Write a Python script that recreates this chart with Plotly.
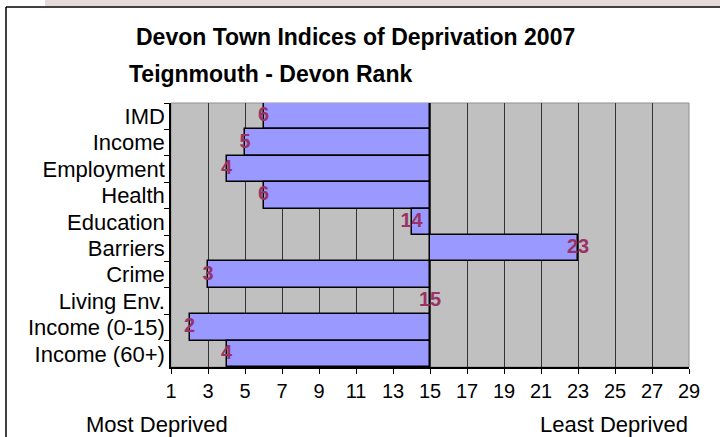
import plotly.graph_objects as go

categories = ["IMD", "Income", "Employment", "Health", "Education",
              "Barriers", "Crime", "Living Env.", "Income (0-15)", "Income (60+)"]
ranks = [6, 5, 4, 6, 14, 23, 3, 15, 2, 4]
baseline = 15
x_ticks = list(range(1, 30, 2))

title_text = "Devon Town Indices of Deprivation 2007"
subtitle_text = "Teignmouth - Devon Rank"
left_label = "Most Deprived"
right_label = "Least Deprived"

W, H = 720, 437
L, R, T, B = 171, 689, 103, 367  # plot area in px


def px_x(px):
    return (px - L) / (R - L)


def px_y(py):
    return (B - py) / (B - T)


FONT = "Liberation Sans, Arial, sans-serif"

fig = go.Figure()
fig.add_trace(go.Bar(
    y=categories,
    x=[r - baseline for r in ranks],
    base=baseline,
    orientation="h",
    marker=dict(color="#9999FF", line=dict(color="black", width=1.5)),
    hoverinfo="skip",
))
fig.add_trace(go.Scatter(
    y=categories,
    x=ranks,
    mode="text",
    text=[str(r) for r in ranks],
    textposition="middle center",
    textfont=dict(family=FONT, size=20, color="#993366", weight="bold"),
    hoverinfo="skip",
))

fig.update_layout(
    width=W, height=H,
    margin=dict(l=L, r=W - R, t=T, b=H - B, pad=0),
    paper_bgcolor="white",
    plot_bgcolor="#C0C0C0",
    showlegend=False,
    bargap=0,
    font=dict(family=FONT, color="black"),
    xaxis=dict(
        range=[1, 29],
        tickvals=x_ticks,
        showgrid=True, gridcolor="#333333", gridwidth=1,
        showline=True, linecolor="black", linewidth=1.5,
        ticks="outside", ticklen=5, tickcolor="black",
        tickfont=dict(size=20),
        zeroline=False, fixedrange=True,
    ),
    yaxis=dict(
        autorange="reversed",
        showline=True, linecolor="black", linewidth=1.5,
        ticks="outside", ticklen=5, tickcolor="black",
        tickson="boundaries",
        tickfont=dict(size=22),
        showgrid=False, fixedrange=True,
    ),
)

shapes = [
    # plot area border (grey)
    dict(type="rect", xref="paper", yref="paper", x0=0, x1=1, y0=0, y1=1,
         line=dict(color="#909090", width=1), layer="below"),
    # top banner strip
    dict(type="rect", xref="paper", yref="paper", x0=px_x(45), x1=px_x(720),
         y0=px_y(6), y1=px_y(0), fillcolor="#E6DADA", line=dict(width=0)),
    # chart frame
    dict(type="line", xref="paper", yref="paper", x0=px_x(6), x1=px_x(720),
         y0=px_y(7), y1=px_y(7), line=dict(color="black", width=1.5)),
    dict(type="line", xref="paper", yref="paper", x0=px_x(6), x1=px_x(6),
         y0=px_y(7), y1=px_y(437), line=dict(color="black", width=1.5)),
]
fig.update_layout(shapes=shapes)

annotations = [
    dict(text=f"<b>{title_text}</b>", xref="paper", yref="paper",
         x=px_x(355), y=px_y(37), xanchor="center", yanchor="middle",
         showarrow=False, font=dict(size=23, family=FONT)),
    dict(text=f"<b>{subtitle_text}</b>", xref="paper", yref="paper",
         x=px_x(127), y=px_y(74), xanchor="left", yanchor="middle",
         showarrow=False, font=dict(size=23, family=FONT)),
    dict(text=left_label, xref="paper", yref="paper",
         x=px_x(84), y=px_y(424), xanchor="left", yanchor="middle",
         showarrow=False, font=dict(size=22, family=FONT)),
    dict(text=right_label, xref="paper", yref="paper",
         x=px_x(690), y=px_y(424), xanchor="right", yanchor="middle",
         showarrow=False, font=dict(size=22, family=FONT)),
]
fig.update_layout(annotations=annotations)

fig.write_html("out.html", config={"displayModeBar": False},
               post_script="document.body.style.margin='0px';")
